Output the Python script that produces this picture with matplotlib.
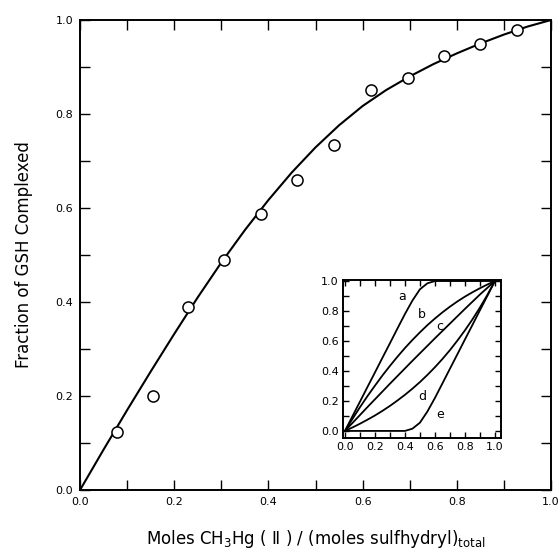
import matplotlib
matplotlib.use("Agg")
import matplotlib.pyplot as plt
from matplotlib.ticker import MultipleLocator

# measured points (open circles)
mole_ratio = [0.078, 0.155, 0.230, 0.306, 0.384, 0.461, 0.539, 0.618, 0.697, 0.773, 0.850, 0.927]
frac_complexed = [0.124, 0.199, 0.390, 0.489, 0.587, 0.660, 0.734, 0.851, 0.876, 0.924, 0.950, 0.978]

# fitted curve
curve_x = [0.0, 0.05, 0.10, 0.15, 0.20, 0.25, 0.30, 0.35, 0.40, 0.45, 0.50,
           0.55, 0.60, 0.65, 0.70, 0.75, 0.80, 0.85, 0.90, 0.95, 1.0]
curve_y = [0.0, 0.086, 0.170, 0.252, 0.332, 0.410, 0.484, 0.553, 0.617, 0.676, 0.729,
           0.776, 0.817, 0.851, 0.880, 0.906, 0.929, 0.950, 0.969, 0.986, 1.0]

# inset model curves a-e
inset_x = [0.0, 0.05, 0.10, 0.15, 0.20, 0.25, 0.30, 0.35, 0.40, 0.45, 0.50,
           0.55, 0.60, 0.65, 0.70, 0.75, 0.80, 0.85, 0.90, 0.95, 1.0]
inset_a = [0.0, 0.098, 0.195, 0.293, 0.390, 0.488, 0.585, 0.683, 0.780, 0.870, 0.945,
           0.985, 1.0, 1.0, 1.0, 1.0, 1.0, 1.0, 1.0, 1.0, 1.0]
inset_b = [0.0, 0.080, 0.158, 0.232, 0.302, 0.370, 0.434, 0.495, 0.553, 0.607, 0.658,
           0.706, 0.750, 0.791, 0.829, 0.864, 0.896, 0.925, 0.952, 0.977, 1.0]
inset_c = [0.0, 0.053, 0.106, 0.159, 0.211, 0.263, 0.315, 0.366, 0.417, 0.468, 0.518,
           0.568, 0.618, 0.667, 0.716, 0.765, 0.814, 0.862, 0.910, 0.955, 1.0]
inset_d = [0.0, 0.023, 0.048, 0.075, 0.103, 0.134, 0.167, 0.203, 0.241, 0.282, 0.326,
           0.374, 0.425, 0.480, 0.539, 0.603, 0.671, 0.744, 0.823, 0.908, 1.0]
inset_e = [0.0, 0.0, 0.0, 0.0, 0.0, 0.0, 0.0, 0.0, 0.0, 0.015, 0.055,
           0.130, 0.220, 0.317, 0.415, 0.512, 0.610, 0.707, 0.805, 0.902, 1.0]
inset_labels = ["a", "b", "c", "d", "e"]
label_pos = [(0.378, 0.895), (0.511, 0.778), (0.635, 0.700), (0.516, 0.229), (0.633, 0.107)]


def fmt(v, p):
    return f"{v:.1f}"


fig = plt.figure(figsize=(5.6, 5.53), dpi=100)
ax = fig.add_axes([0.1429, 0.1139, 0.8410, 0.8499])

ax.plot(curve_x, curve_y, color="black", lw=1.5)
ax.plot(mole_ratio, frac_complexed, "o", mfc="white", mec="black", ms=8, mew=1.1)

ax.set_xlim(0, 1.0)
ax.set_ylim(0, 1.0)
ax.xaxis.set_major_locator(MultipleLocator(0.2))
ax.xaxis.set_minor_locator(MultipleLocator(0.1))
ax.yaxis.set_major_locator(MultipleLocator(0.2))
ax.yaxis.set_minor_locator(MultipleLocator(0.1))
ax.tick_params(which="both", direction="in", top=True, right=True, length=7, width=1.0)
ax.tick_params(axis="both", labelsize=8, pad=5)
ax.xaxis.set_major_formatter(plt.FuncFormatter(fmt))
ax.yaxis.set_major_formatter(plt.FuncFormatter(fmt))
for s in ax.spines.values():
    s.set_linewidth(1.4)

ax.set_xlabel(r"Moles CH$_3$Hg ( Ⅱ ) / (moles sulfhydryl)$_{\mathrm{total}}$", fontsize=12, labelpad=15)
ax.set_ylabel("Fraction of GSH Complexed", fontsize=12, labelpad=16)

# inset
ins = fig.add_axes([0.6125, 0.2080, 0.2820, 0.2857])
for yy in [inset_a, inset_b, inset_c, inset_d, inset_e]:
    ins.plot(inset_x, yy, color="black", lw=1.3)
for lab, (lx, ly) in zip(inset_labels, label_pos):
    ins.text(lx, ly, lab, fontsize=9, ha="center", va="center")
ins.set_xlim(-0.013, 1.04)
ins.set_ylim(-0.047, 1.007)
ins.xaxis.set_major_locator(MultipleLocator(0.2))
ins.xaxis.set_minor_locator(MultipleLocator(0.1))
ins.yaxis.set_major_locator(MultipleLocator(0.2))
ins.yaxis.set_minor_locator(MultipleLocator(0.1))
ins.set_xticks([0.0, 0.2, 0.4, 0.6, 0.8, 1.0])
ins.set_yticks([0.0, 0.2, 0.4, 0.6, 0.8, 1.0])
ins.xaxis.set_major_formatter(plt.FuncFormatter(fmt))
ins.yaxis.set_major_formatter(plt.FuncFormatter(fmt))
ins.tick_params(which="both", direction="in", top=True, right=True, length=4, width=1.0,
                labelsize=8, pad=3)
for s in ins.spines.values():
    s.set_linewidth(1.4)

fig.savefig("out.png", dpi=100)
